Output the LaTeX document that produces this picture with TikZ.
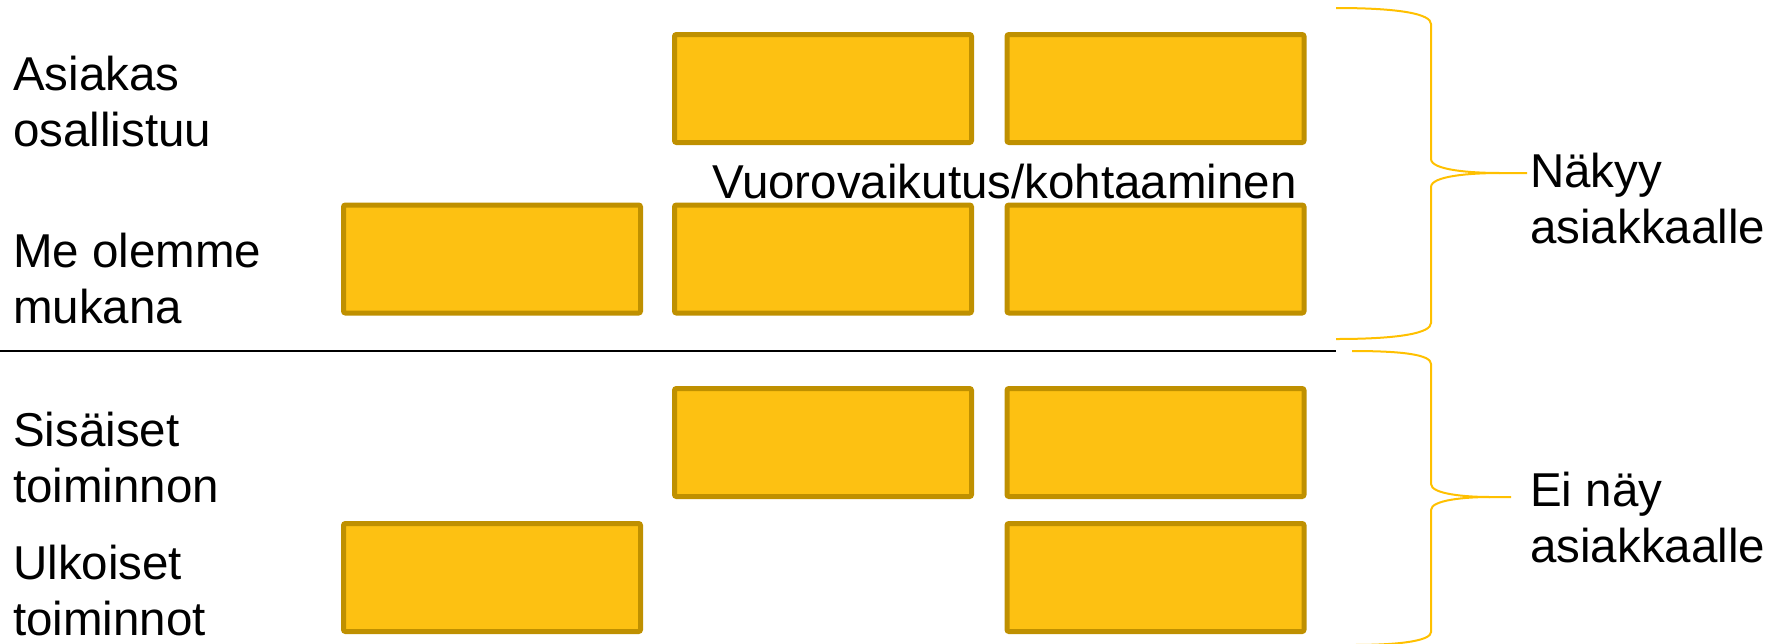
\documentclass[tikz,border=0pt]{standalone}
\usepackage{fontspec}
\setmainfont{Liberation Sans}
\definecolor{boxfill}{HTML}{FDC112}
\definecolor{boxline}{HTML}{BF9000}
\definecolor{bracecol}{HTML}{FFC000}
\begin{document}
\begin{tikzpicture}[x=1pt,y=-1pt,
  ybox/.style={draw=boxline,fill=boxfill,line width=5pt,rounded corners=2pt,
    minimum width=297pt,minimum height=108pt,inner sep=0pt},
  lbl/.style={anchor=base west,align=left,inner sep=0pt,
    font=\fontsize{47.5}{56}\selectfont},
  bracepath/.style={draw=bracecol,line width=2pt}]
\useasboundingbox (0,0) rectangle (1771,643);
% boxes
\node[ybox] (b12) at (823,88.5) {};
\node[ybox] (b13) at (1155.5,88.5) {};
\node[ybox] (b21) at (492,259) {};
\node[ybox] (b22) at (823,259) {};
\node[ybox] (b23) at (1155.5,259) {};
\node[ybox] (b32) at (823,442.5) {};
\node[ybox] (b33) at (1155.5,442.5) {};
\node[ybox] (b41) at (492,577.5) {};
\node[ybox] (b43) at (1155.5,577.5) {};
% separator
\coordinate (sepL) at (0,351);
\coordinate (sepR) at (1336,351);
\draw[line width=1.6pt] (sepL) -- (sepR);
% labels (anchor at baseline of last line)
\node[lbl] (l1) at (13,146) {Asiakas\\osallistuu};
\node[lbl] (l2) at (13,323) {Me olemme\\mukana};
\node[lbl] (l3) at (13,502) {Sisäiset\\toiminnon};
\node[lbl] (l4) at (13,635) {Ulkoiset\\toiminnot};
\node[lbl] (vk) at (712,198) {Vuorovaikutus/kohtaaminen};
\node[lbl] (r1) at (1530,243) {Näkyy\\asiakkaalle};
\node[lbl] (r2) at (1530,562) {Ei näy\\asiakkaalle};
% braces
\draw[bracepath] (1336,8) .. controls (1400,8) and (1431,14) .. (1431,24)
  -- (1431,159) .. controls (1431,170) and (1470,173) .. (1500,173) -- (1527,173);
\draw[bracepath] (1500,173) .. controls (1470,173) and (1431,176) .. (1431,187)
  -- (1431,323) .. controls (1431,333) and (1400,339) .. (1336,339);
\draw[bracepath] (1352,351) .. controls (1405,351) and (1431,355) .. (1431,364)
  -- (1431,484) .. controls (1431,494) and (1465,497) .. (1490,497) -- (1511,497);
\draw[bracepath] (1490,497) .. controls (1465,497) and (1431,500) .. (1431,510)
  -- (1431,632) .. controls (1431,640) and (1405,645) .. (1352,645);
\end{tikzpicture}
\end{document}
